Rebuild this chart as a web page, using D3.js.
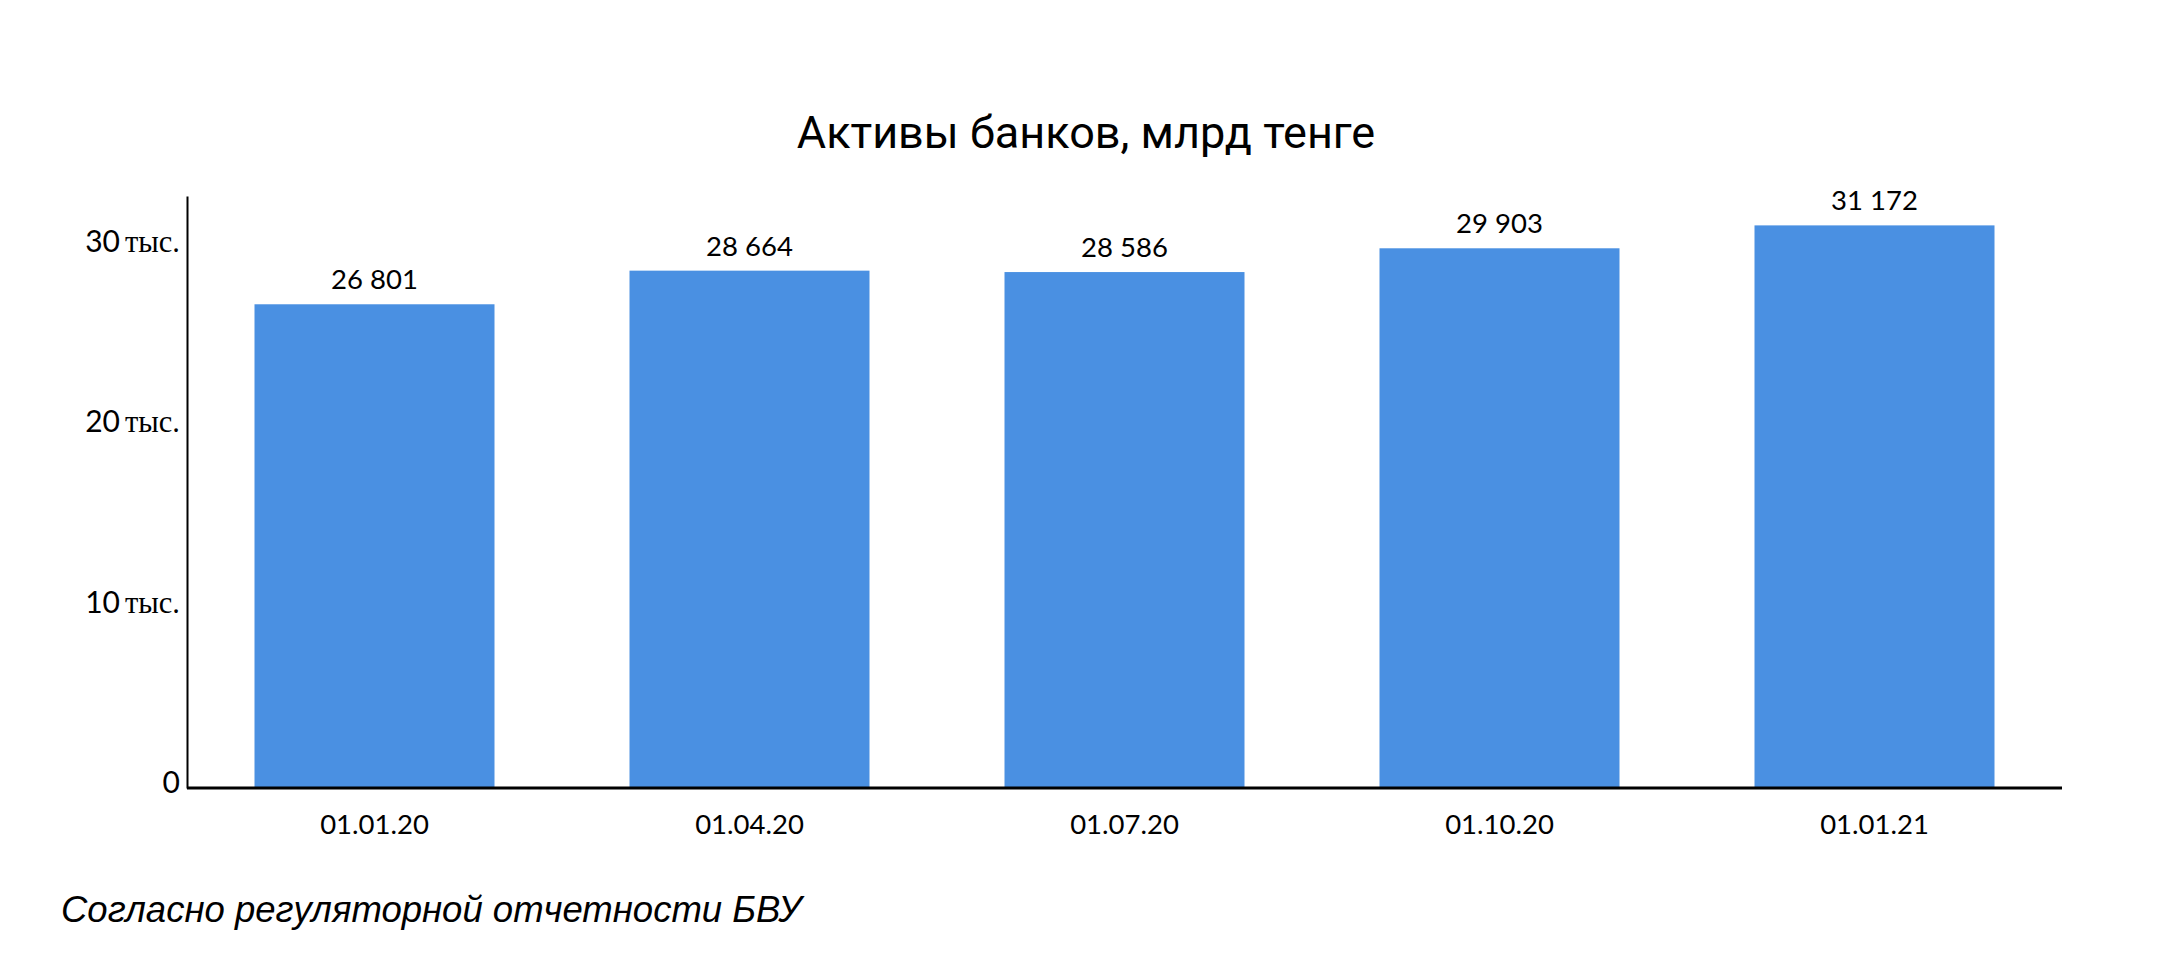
<!DOCTYPE html>
<html>
<head>
<meta charset="utf-8">
<script src="https://cdn.jsdelivr.net/npm/d3@7"></script>
<style>
  body { margin: 0; background: #fff; }
</style>
</head>
<body>
<script>
// data
const dates = ["01.01.20", "01.04.20", "01.07.20", "01.10.20", "01.01.21"];
const assets = [26801, 28664, 28586, 29903, 31172];
const yTicks = [0, 10000, 20000, 30000];

const W = 2160, H = 968;
const margin = { left: 187, right: 98, top: 196, bottom: 180 };

const svg = d3.select("body").append("svg")
  .attr("width", W)
  .attr("height", H);

const x = d3.scaleBand()
  .domain(dates)
  .range([margin.left, W - margin.right])
  .paddingInner(0.36)
  .paddingOuter(0.18);

const y = d3.scaleLinear()
  .domain([0, 32800])
  .range([H - margin.bottom, margin.top]);

// title
svg.append("text")
  .attr("x", 1086)
  .attr("y", 148)
  .attr("text-anchor", "middle")
  .style("font-family", "Roboto, 'Liberation Sans', sans-serif")
  .style("font-size", "45px")
  .attr("fill", "#000")
  .text("Активы банков, млрд тенге");

// bars
svg.selectAll("rect.bar")
  .data(assets)
  .join("rect")
  .attr("class", "bar")
  .attr("x", (d, i) => x(dates[i]))
  .attr("width", x.bandwidth())
  .attr("y", d => y(d))
  .attr("height", d => y(0) - y(d))
  .attr("fill", "#4a90e2");

// value labels
const fmt = d => d3.format(",")(d).replace(/,/g, " ");
svg.selectAll("text.val")
  .data(assets)
  .join("text")
  .attr("class", "val")
  .attr("x", (d, i) => x(dates[i]) + x.bandwidth() / 2)
  .attr("y", d => y(d) - 15)
  .attr("text-anchor", "middle")
  .style("font-family", "Lato, sans-serif")
  .style("font-size", "27.5px")
  .text(fmt);

// y axis
const yAxis = d3.axisLeft(y).tickValues(yTicks).tickSize(0).tickFormat("");
const gy = svg.append("g")
  .attr("transform", `translate(${margin.left},0)`)
  .call(yAxis);
gy.select(".domain").attr("stroke", "#000").attr("stroke-width", 2);

const yl = svg.selectAll("text.ytick")
  .data(yTicks)
  .join("text")
  .attr("class", "ytick")
  .attr("x", margin.left - 7)
  .attr("y", d => y(d) + 5)
  .attr("text-anchor", "end");
yl.append("tspan")
  .style("font-family", "Lato, sans-serif")
  .style("font-size", "30px")
  .text(d => d === 0 ? "0" : String(d / 1000));
yl.filter(d => d !== 0).append("tspan")
  .attr("dx", 5)
  .style("font-family", "'Liberation Serif', serif")
  .style("font-size", "30.5px")
  .text("тыс.");

// x axis
const xAxis = d3.axisBottom(x).tickSize(0).tickPadding(26);
const gx = svg.append("g")
  .attr("transform", `translate(0,${y(0)})`)
  .call(xAxis);
gx.select(".domain")
  .attr("d", `M${margin.left},0H${W - margin.right}`)
  .attr("stroke", "#000").attr("stroke-width", 3);
gx.selectAll(".tick text")
  .style("font-family", "Lato, sans-serif")
  .style("font-size", "27.5px")
  .attr("fill", "#000");

// source note
svg.append("text")
  .attr("x", 61)
  .attr("y", 922)
  .style("font-family", "'Liberation Sans', Arial, sans-serif")
  .style("font-style", "italic")
  .style("font-size", "36.5px")
  .text("Согласно регуляторной отчетности БВУ");
</script>
</body>
</html>
